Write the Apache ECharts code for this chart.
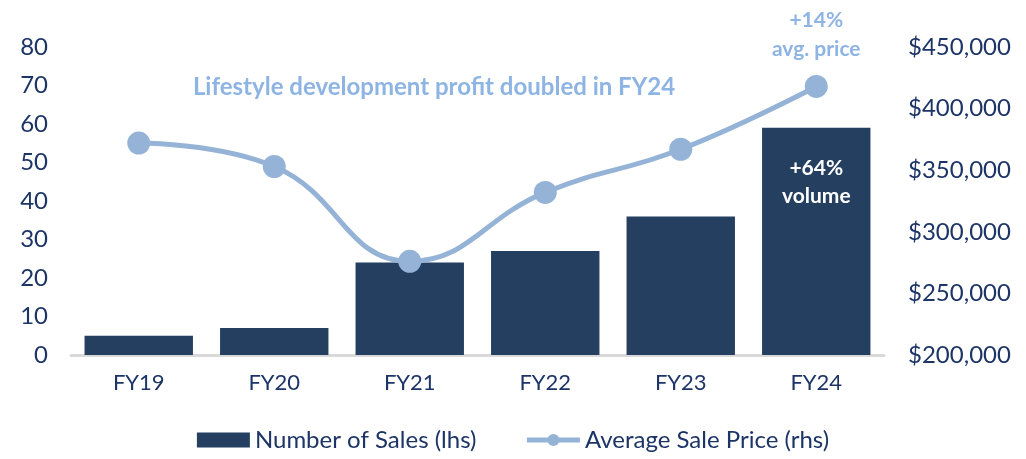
<!DOCTYPE html>
<html><head><meta charset="utf-8">
<script src="https://cdn.jsdelivr.net/npm/echarts@6/dist/echarts.min.js"></script>
<style>html,body{margin:0;padding:0;background:#fff}#c{width:1026px;height:459px}</style>
</head><body><div id="c"></div>
<script>
const categories = ['FY19','FY20','FY21','FY22','FY23','FY24'];
const salesCount = [5, 7, 24, 27, 36, 59];
const avgPrice = [372000, 353000, 276000, 332000, 367000, 418000];
const leftTicks = [0, 80, 10];
const rightTicks = [200000, 450000, 50000];
const FONT = 'Lato, "Open Sans", sans-serif';
const NAVY = '#1c3466';
const chart = echarts.init(document.getElementById('c'));
chart.setOption({
  animation: false,
  title: {
    text: 'Lifestyle development profit doubled in FY24',
    left: 429, top: 70, textAlign: 'center',
    textStyle: {color: '#8eb4e3', fontSize: 24, fontWeight: 'bold', fontFamily: FONT}
  },
  grid: {left: 71, right: 142, top: 47, bottom: 104, containLabel: false},
  legend: {
    bottom: 2, left: 'center', itemGap: 48, itemWidth: 53, itemHeight: 15,
    textStyle: {color: NAVY, fontSize: 24, fontFamily: FONT},
    data: [
      {name: 'Number of Sales (lhs)', icon: 'rect'},
      {name: 'Average Sale Price (rhs)', lineStyle: {width: 5, color: '#95b3d7'}}
    ]
  },
  xAxis: {
    type: 'category', data: categories,
    axisLine: {lineStyle: {color: '#d9d9d9', width: 3}},
    axisTick: {show: false},
    axisLabel: {color: NAVY, fontSize: 22, fontFamily: FONT, margin: 17}
  },
  yAxis: [{
    type: 'value', min: leftTicks[0], max: leftTicks[1], interval: leftTicks[2],
    splitLine: {show: false}, axisLine: {show: false}, axisTick: {show: false},
    axisLabel: {color: NAVY, fontSize: 24, fontFamily: FONT, margin: 23}
  }, {
    type: 'value', min: rightTicks[0], max: rightTicks[1], interval: rightTicks[2],
    splitLine: {show: false}, axisLine: {show: false}, axisTick: {show: false},
    axisLabel: {color: NAVY, fontSize: 24, fontFamily: FONT, margin: 24,
      formatter: v => '$' + v.toLocaleString('en-US')}
  }],
  series: [{
    name: 'Number of Sales (lhs)', type: 'bar', data: salesCount.map((v,i) => i === 5 ? {
      value: v, label: {show: true, position: 'insideTop', distance: 26,
        formatter: '+64%\nvolume', color: '#fff', fontSize: 21, fontWeight: 'bold',
        fontFamily: FONT, lineHeight: 28}
    } : v),
    barCategoryGap: '20%', itemStyle: {color: '#253f60'}
  }, {
    name: 'Average Sale Price (rhs)', type: 'line', yAxisIndex: 1, smooth: 0.45,
    data: avgPrice.map((v,i) => i === 5 ? {
      value: v, label: {show: true, position: 'top', distance: 11,
        formatter: '+14%\navg. price', color: '#8eb4e3', fontSize: 21, fontWeight: 'bold',
        fontFamily: FONT, lineHeight: 29}
    } : v),
    symbol: 'circle', symbolSize: 23,
    lineStyle: {color: '#95b3d7', width: 5},
    itemStyle: {color: '#95b3d7'}
  }]
});
</script></body></html>
